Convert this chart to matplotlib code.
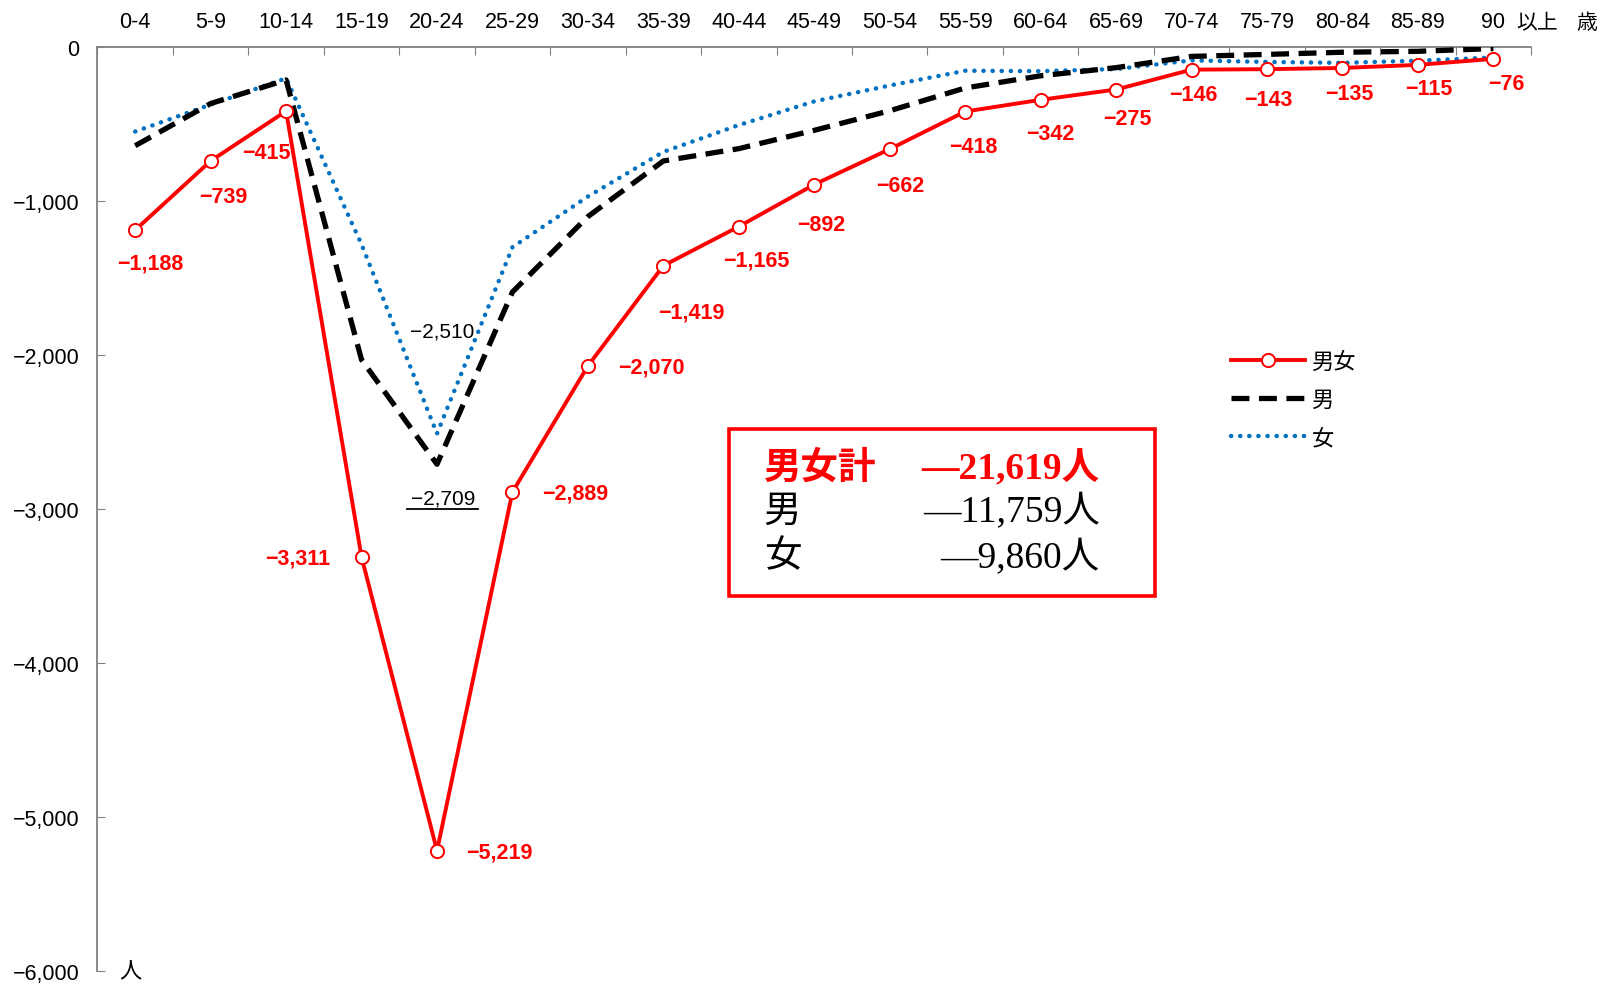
import matplotlib
matplotlib.use('Agg')
import matplotlib.pyplot as plt
from matplotlib import font_manager
from matplotlib.patches import Rectangle
from matplotlib.lines import Line2D
from matplotlib.transforms import IdentityTransform

# age groups (top axis)
age_groups = ['0-4', '5-9', '10-14', '15-19', '20-24', '25-29', '30-34', '35-39',
              '40-44', '45-49', '50-54', '55-59', '60-64', '65-69', '70-74',
              '75-79', '80-84', '85-89', '90']

# net change by age group (persons)
total = [-1188, -739, -415, -3311, -5219, -2889, -2070, -1419, -1165, -892,
         -662, -418, -342, -275, -146, -143, -135, -115, -76]
male = [-640, -366, -213, -2030, -2709, -1590, -1100, -739, -659, -540,
        -413, -265, -186, -133, -60, -47, -33, -27, -9]
female = [t - m for t, m in zip(total, male)]

summary_rows = [('男女計', '―21,619人'), ('男', '―11,759人'), ('女', '―9,860人')]

# label offsets (pixels) for the total series
label_offsets = [(15, -33), (13, -36), (-20, -41), (-64, -1), (62, -1), (63, -1),
                 (63, -1), (28, -46), (17, -33), (7, -40), (11, -36), (8, -35),
                 (10, -34), (11, -29), (2, -25), (1, -30), (7, -26), (11, -24),
                 (13, -25)]

installed = {f.name for f in font_manager.fontManager.ttflist}
narrow = 'Liberation Sans Narrow' if 'Liberation Sans Narrow' in installed else 'Liberation Sans'
jp = 'Noto Sans CJK JP'

plt.rcParams['font.family'] = [jp, 'DejaVu Sans']

fig = plt.figure(figsize=(16.08, 9.87), dpi=100)
ax = fig.add_axes([0.0606, 0.0152, 0.8916, 0.936])

x = list(range(len(age_groups)))
ax.plot(x, female, color='#0070C0', lw=3.2, linestyle=(0, (0.05, 2.0)),
        dash_capstyle='round', zorder=2, label='女')
ax.plot(x, male, color='black', lw=3.8, linestyle=(0, (3.4, 1.8)), zorder=3, label='男')
ax.plot(x, total, color='#FF0000', lw=2.8, marker='o', markersize=9.5,
        markerfacecolor='white', markeredgecolor='#FF0000', markeredgewidth=1.4,
        zorder=4, label='男女')

for xi, v, off in zip(x, total, label_offsets):
    ax.annotate(f'−{abs(v):,}', xy=(xi, v), xytext=off, textcoords='offset pixels',
                ha='center', va='center', color='#FF0000', fontsize=15.5,
                fontweight='bold', family=[narrow, jp])

ax.set_xlim(-0.5, len(age_groups) - 0.5)
ax.set_ylim(-6000, 0)

# male / female labels at 20-24
i2024 = age_groups.index('20-24')
ax.annotate(f'−{abs(female[i2024]):,}', xy=(i2024, female[i2024]), xytext=(5, 103),
            textcoords='offset pixels', ha='center', va='center', fontsize=15,
            family=[narrow, jp])
ax.annotate(f'−{abs(male[i2024]):,}', xy=(i2024, male[i2024]), xytext=(6, -34),
            textcoords='offset pixels', ha='center', va='center', fontsize=15,
            family=[narrow, jp])
# underline under the male label
px, py = ax.transData.transform((i2024, male[i2024]))
fig.lines.append(Line2D([px - 30, px + 41], [py - 45, py - 45], transform=IdentityTransform(),
                        color='black', lw=1.3))

ax.set_xticks([i - 0.5 for i in range(len(age_groups) + 1)])
ax.set_xticklabels([])
ax.set_xticks(x, minor=True)
ax.set_xticklabels(age_groups, minor=True, fontsize=15.5, family=[narrow, jp])
ax.xaxis.tick_top()
ax.tick_params(axis='x', which='major', direction='in', length=6, color='#808080')
ax.tick_params(axis='x', which='minor', length=0, pad=11)
ax.set_yticks(range(-6000, 1, 1000))
ax.set_yticklabels([f'{v:,}'.replace('-', '−') if v else '0' for v in range(-6000, 1, 1000)],
                   family=['Liberation Sans', jp], fontsize=15.5)
ax.tick_params(axis='y', direction='in', length=6, color='#808080', pad=13)
for s in ['right', 'bottom']:
    ax.spines[s].set_visible(False)
for s in ['left', 'top']:
    ax.spines[s].set_color('#808080')
    ax.spines[s].set_linewidth(1.3)

ax.text(1.004, 1.027, '以上', transform=ax.transAxes, ha='center', va='center', fontsize=15)
ax.text(1.039, 1.027, '歳', transform=ax.transAxes, ha='center', va='center', fontsize=15)
ax.text(0.023, 0.0, '人', transform=ax.transAxes, ha='center', va='center', fontsize=16)

handles, labels = ax.get_legend_handles_labels()
leg = ax.legend(handles[::-1], labels[::-1], loc='upper left', bbox_to_anchor=(0.777, 0.694),
                frameon=False, fontsize=16, handlelength=3.3, labelspacing=0.68,
                handletextpad=0.3)

# summary box
fig.patches.append(Rectangle((0.4534, 1 - 0.605), 0.2647, 0.1694, transform=fig.transFigure,
                             fill=False, edgecolor='#FF0000', lw=2.6))
row_y = [0.525, 0.481, 0.435]
for (name, val), ry, i in zip(summary_rows, row_y, range(3)):
    col = '#FF0000' if i == 0 else 'black'
    wt = 'bold' if i == 0 else 'normal'
    fig.text(0.475, ry, name, color=col, fontsize=27, fontweight=wt, va='center', ha='left',
             family=['Liberation Serif', jp])
    fig.text(0.684, ry, val, color=col, fontsize=27, fontweight=wt, va='center', ha='right',
             family=['Liberation Serif', jp])

fig.savefig('out.png', dpi=100)
